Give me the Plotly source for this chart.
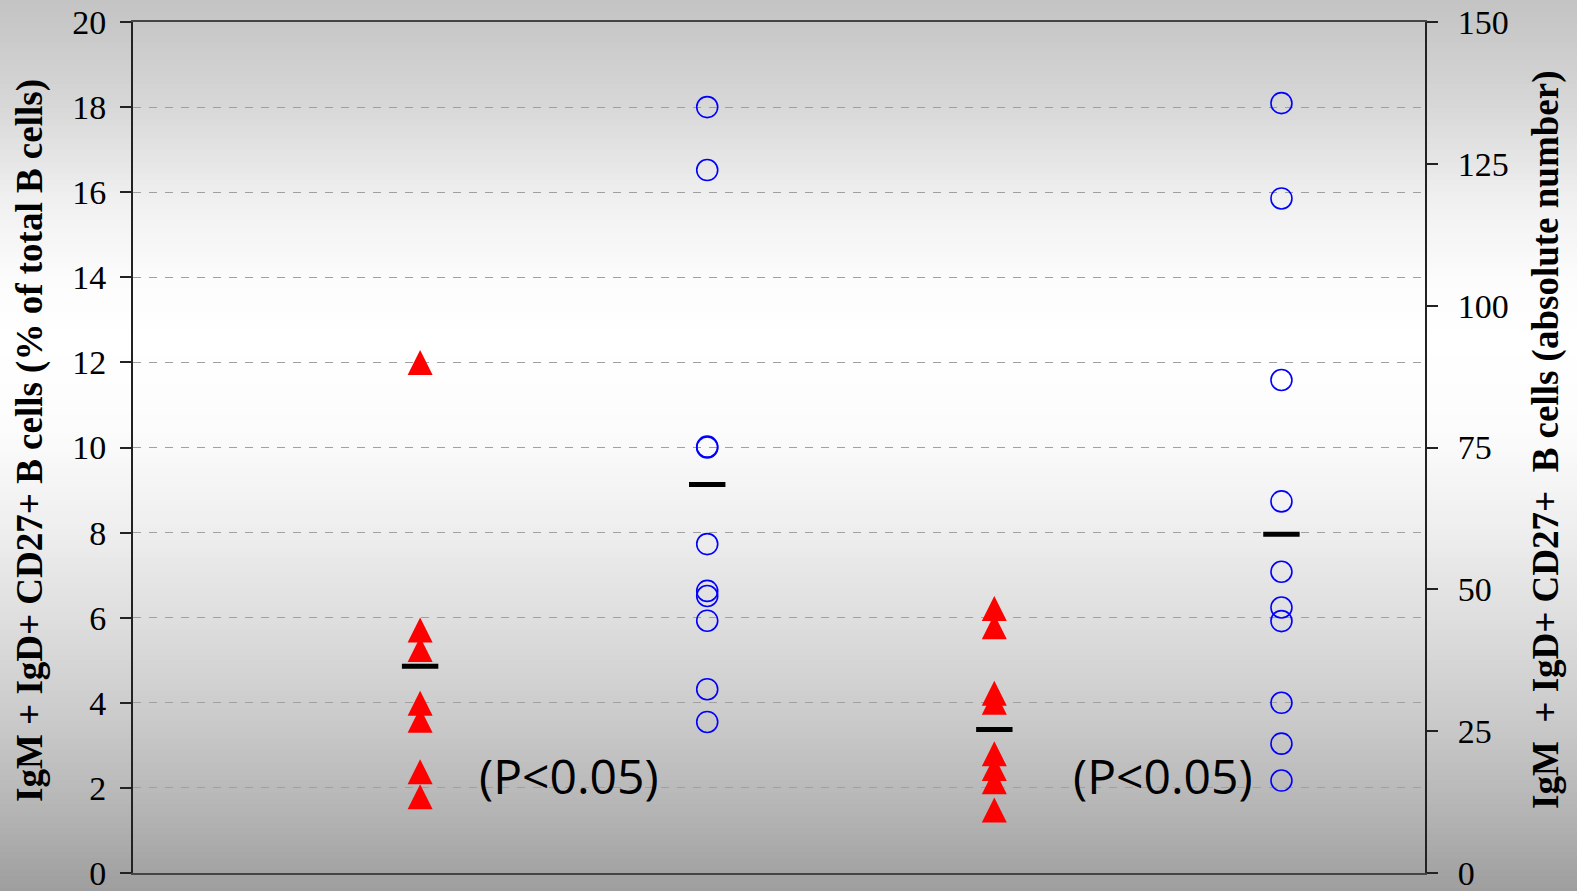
import plotly.graph_objects as go

# ---- data ----
group_x = [1, 2, 3, 4]
pct_red = [12.0, 5.71, 5.25, 3.99, 3.59, 2.38, 1.79]          # % of total B cells
pct_blue = [18.0, 16.52, 10.02, 10.0, 7.73, 6.63, 6.51, 5.93, 4.32, 3.55]
abs_red = [46.6, 43.4, 31.7, 30.1, 21.0, 18.4, 16.1, 11.1]      # absolute number
abs_blue = [135.7, 118.9, 86.9, 65.5, 53.1, 46.8, 44.4, 30.0, 22.8, 16.3]
pct_means = [4.86, 9.13]
abs_means = [25.3, 59.7]
p_labels = ["(P<0.05)", "(P<0.05)"]
p_label_x = [1.52, 3.586]
p_label_y = [2.3, 2.3]
left_ticks = list(range(0, 21, 2))
right_ticks = list(range(0, 151, 25))
left_title = "IgM + IgD+ CD27+ B cells (% of total B cells)"
right_title = "IgM  + IgD+ CD27+  B cells (absolute number)"

W, H = 1577, 891
ML, MR, MT, MB = 133, 152, 22, 18
PH = H - MT - MB

fig = go.Figure()

tri = dict(symbol="arrow-down", angle=180, size=25, standoff=12.5, color="#FF0000",
           line=dict(width=0))
circ = dict(symbol="circle-open", size=21, color="#0000FF", line=dict(width=1.6, color="#0000FF"))
meanm = dict(symbol="line-ew", size=26, line=dict(width=5, color="black"), color="black")

fig.add_trace(go.Scatter(x=[group_x[0]] * len(pct_red), y=pct_red, mode="markers",
                         marker=tri, yaxis="y", showlegend=False))
fig.add_trace(go.Scatter(x=[group_x[1]] * len(pct_blue), y=pct_blue, mode="markers",
                         marker=circ, yaxis="y", showlegend=False))
fig.add_trace(go.Scatter(x=group_x[:2], y=pct_means, mode="markers",
                         marker=meanm, yaxis="y", showlegend=False))
fig.add_trace(go.Scatter(x=[group_x[2]] * len(abs_red), y=abs_red, mode="markers",
                         marker=tri, yaxis="y2", showlegend=False))
fig.add_trace(go.Scatter(x=[group_x[3]] * len(abs_blue), y=abs_blue, mode="markers",
                         marker=circ, yaxis="y2", showlegend=False))
fig.add_trace(go.Scatter(x=group_x[2:], y=abs_means, mode="markers",
                         marker=meanm, yaxis="y2", showlegend=False))

# ---- gradient background (bands) ----
stops = [(0, 195), (100, 214), (200, 240), (280, 252), (340, 255), (430, 252),
         (530, 238), (630, 220), (730, 200), (820, 178), (891, 158)]


def gray_at(y):
    for (y0, c0), (y1, c1) in zip(stops[:-1], stops[1:]):
        if y0 <= y <= y1:
            t = (y - y0) / (y1 - y0)
            return int(round(c0 + (c1 - c0) * t))
    return stops[-1][1]


shapes = []
step = 6
for yy in range(0, H, step):
    g = gray_at(yy + step / 2)
    p0 = (H - MB - (yy + step + 0.5)) / PH
    p1 = (H - MB - yy) / PH
    shapes.append(dict(type="rect", xref="paper", yref="paper", x0=-0.2, x1=1.2,
                       y0=p0, y1=p1, fillcolor=f"rgb({g},{g},{g})",
                       line=dict(width=0), layer="below"))

tickfont = dict(family="Liberation Serif, Times New Roman, serif", size=34, color="black")
axcol = "#222222"
titlefont = dict(family="Liberation Serif, Times New Roman, serif", size=37, color="black")

annotations = []
for t, x, y in zip(p_labels, p_label_x, p_label_y):
    annotations.append(dict(text=t, x=x, y=y, xref="x", yref="y", showarrow=False,
                            font=dict(family="Open Sans, sans-serif", size=48, color="black"),
                            xanchor="center", yanchor="middle"))
annotations.append(dict(text="<b>" + left_title + "</b>", textangle=-90, xref="paper", yref="paper",
                        x=(30 - ML) / (W - ML - MR), y=(H - MB - 441) / PH, showarrow=False,
                        xanchor="center", yanchor="middle", font=titlefont))
annotations.append(dict(text="<b>" + right_title + "</b>", textangle=-90, xref="paper", yref="paper",
                        x=(1546 - ML) / (W - ML - MR), y=(H - MB - 440) / PH, showarrow=False,
                        xanchor="center", yanchor="middle", font=titlefont))

fig.update_layout(
    width=W, height=H,
    margin=dict(l=ML, r=MR, t=MT, b=MB, pad=0, autoexpand=False),
    paper_bgcolor="#d0d0d0",
    plot_bgcolor="rgba(0,0,0,0)",
    shapes=shapes,
    annotations=annotations,
    xaxis=dict(range=[0, 4.5], showticklabels=False, ticks="", showgrid=False, automargin=False,
               zeroline=False, showline=True, mirror=True, linecolor="#444444", linewidth=2),
    yaxis=dict(range=[0, 20], tickvals=left_ticks, ticks="outside", ticklen=11, automargin=False,
               tickcolor=axcol, tickwidth=1.5, tickfont=tickfont, ticklabelstandoff=7,
               ticklabeloverflow="allow",
               showgrid=True, gridcolor="#a0a0a0", griddash="8px,8px", gridwidth=1,
               zeroline=False, showline=True, linecolor=axcol, linewidth=2),
    yaxis2=dict(range=[0, 150], tickvals=right_ticks, overlaying="y", side="right",
                ticks="outside", ticklen=11, tickcolor=axcol, tickwidth=1.5, tickfont=tickfont,
                ticklabelstandoff=13, ticklabeloverflow="allow", automargin=False,
                showgrid=False, zeroline=False, showline=True,
                linecolor=axcol, linewidth=2),
    yaxis3=dict(range=[0, 150], tickvals=right_ticks, overlaying="y", side="right",
                ticks="inside", ticklen=11, tickcolor=axcol, tickwidth=1.5, automargin=False,
                showticklabels=False, showgrid=False, zeroline=False, showline=False),
)

fig.write_html("out.html", config={"displayModeBar": False},
               post_script="document.body.style.margin='0px';document.body.style.overflow='hidden';")
